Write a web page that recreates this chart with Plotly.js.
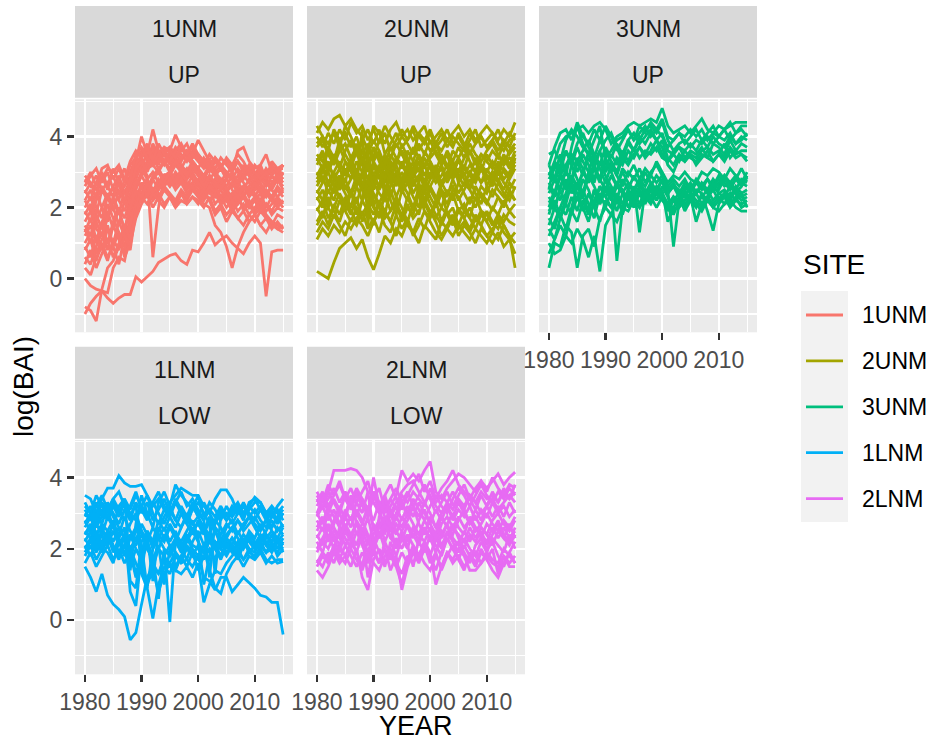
<!DOCTYPE html>
<html>
<head>
<meta charset="utf-8">
<script src="https://cdn.plot.ly/plotly-3.0.1.min.js"></script>
<style>html,body{margin:0;padding:0;background:#fff;}#chart{width:931px;height:742px;}</style>
</head>
<body>
<div id="chart"></div>
<script>
const YEARS = [1980,1981,1982,1983,1984,1985,1986,1987,1988,1989,1990,1991,1992,1993,1994,1995,1996,1997,1998,1999,2000,2001,2002,2003,2004,2005,2006,2007,2008,2009,2010,2011,2012,2013,2014,2015];

const SITES = ["1UNM","2UNM","3UNM","1LNM","2LNM"];
const ELEV = ["UP","UP","UP","LOW","LOW"];
const COLORS = ["#F8766D","#A3A500","#00BF7D","#00B0F6","#E76BF3"];
const X_TICKS = [1980,1990,2000,2010];
const Y_TICKS = [0,2,4];

const SITE_1UNM = [
[0.0,-0.2,-0.3,-0.35,-0.55,-0.7,-0.55,-0.45,-0.45,0.05,-0.1,0.05,0.2,0.45,0.55,0.65,0.7,0.5,0.4,0.8,0.75,1.0,1.3,0.95,1.1,1.2,1.0,0.85,0.7,1.0,1.2,1.0,-0.5,0.75,0.8,0.8],
[-0.8,-0.9,-1.2,-0.3,0.3,0.5,0.9,1.2,1.6,2.3,2.6,2.8,2.5,2.7,2.9,3.0,2.8,2.9,2.6,2.7,2.8,2.5,2.4,2.6,2.3,2.4,2.2,2.5,2.3,2.1,2.2,2.4,2.0,2.3,2.1,2.2],
[-1.0,-0.7,-0.5,-0.35,-0.4,0.3,0.6,0.5,1.3,2.0,2.4,2.6,2.3,2.5,2.8,2.6,2.9,2.7,2.8,3.0,2.7,2.9,2.6,2.4,2.7,2.5,2.3,2.6,2.4,2.5,2.3,2.6,2.4,2.2,2.5,2.3],
[0.3,0.1,0.6,0.9,0.5,1.1,0.8,1.4,1.9,2.5,2.9,3.1,3.2,3.0,3.3,3.1,3.4,3.2,3.0,3.3,3.1,2.9,2.8,3.0,2.7,2.8,2.6,2.9,2.7,2.5,2.6,2.9,2.7,2.5,2.8,2.6],
[0.6,0.4,0.9,1.3,0.8,1.5,1.1,0.7,1.8,2.6,3.0,3.3,3.5,3.2,3.6,3.4,3.7,3.5,3.3,3.6,3.4,3.2,3.0,3.3,3.1,2.9,3.2,3.0,2.8,3.1,2.9,3.2,2.8,2.6,3.0,2.8],
[1.2,1.5,1.0,1.6,1.9,1.4,2.0,1.7,2.2,2.8,3.2,3.5,4.2,3.6,3.5,3.7,3.4,3.6,3.8,3.4,3.5,3.3,3.1,3.4,3.2,3.3,3.0,3.6,3.7,3.3,3.1,3.2,3.5,3.0,3.1,3.2],
[2.8,2.6,2.9,2.5,2.7,2.9,2.4,2.6,2.9,3.3,4.0,3.5,3.2,3.4,3.6,3.7,3.5,3.3,3.6,3.5,3.9,3.6,3.3,3.1,3.4,3.2,3.0,3.3,3.1,2.9,3.2,3.0,2.8,3.1,2.9,3.2],
[2.9,2.7,2.5,2.8,3.1,3.0,3.2,2.8,3.0,3.4,3.6,3.3,3.8,3.5,3.7,3.6,4.05,3.7,3.4,3.5,3.3,3.1,3.4,3.0,3.2,3.0,2.8,3.1,2.9,3.2,3.0,2.8,3.1,2.9,3.1,3.1],
[2.0,2.3,1.8,2.5,2.2,2.6,2.9,2.4,2.7,3.0,3.2,2.9,0.6,2.0,2.8,2.9,3.2,3.0,2.8,3.1,2.9,2.7,2.5,2.8,2.6,2.4,2.7,2.5,2.3,2.6,2.4,2.2,2.5,2.3,2.6,2.4],
[1.5,1.2,1.8,1.4,2.1,1.7,1.3,0.9,1.5,2.2,2.7,2.5,2.9,3.1,2.8,3.0,2.7,2.9,3.1,2.8,2.6,2.4,2.7,2.5,2.2,2.4,2.1,2.3,2.0,2.2,1.9,2.1,1.8,1.6,1.5,1.4],
[2.5,2.2,2.7,3.0,2.6,2.3,2.8,3.1,2.5,2.9,3.1,2.8,3.0,2.7,2.9,2.6,2.8,3.0,2.7,2.5,2.7,2.4,2.6,2.3,2.5,2.2,2.4,2.1,2.3,2.0,2.2,1.9,2.1,1.8,2.0,1.9],
[1.0,1.3,0.7,1.1,1.5,0.9,0.4,1.2,0.8,1.9,2.4,2.7,2.3,2.6,2.9,2.7,3.0,2.8,2.6,2.9,2.7,2.5,2.8,2.6,2.3,2.5,2.2,2.4,1.9,2.1,1.8,2.0,1.7,1.5,1.4,1.3],
[1.8,2.1,1.6,2.0,2.4,2.0,1.5,2.2,1.9,2.4,2.2,2.5,2.2,2.4,2.1,2.3,2.0,2.2,2.1,2.3,2.1,2.4,2.2,1.8,2.0,1.6,1.9,1.7,1.5,1.8,1.6,1.9,1.7,1.5,1.8,1.7],
[2.7,3.0,2.6,3.1,3.2,2.8,3.1,2.7,3.2,3.4,3.0,3.3,3.6,3.4,3.2,3.5,3.3,3.1,3.4,3.2,3.0,2.8,3.1,2.9,2.7,3.0,2.8,2.6,2.9,2.7,2.5,2.8,2.6,2.9,2.7,3.0],
[1.3,1.7,1.1,1.5,1.0,1.6,2.0,1.3,2.1,3.0,3.4,3.1,3.7,3.3,3.5,3.2,3.6,3.4,3.5,3.3,3.1,2.9,3.2,3.0,2.8,2.6,2.9,2.7,2.5,2.8,2.6,2.4,2.7,2.5,2.3,2.5],
[2.2,2.5,2.0,1.7,2.3,2.6,2.2,1.9,2.4,2.8,2.6,2.3,2.5,2.2,2.0,2.3,2.1,2.4,2.2,2.5,2.3,2.1,2.0,1.5,1.3,0.9,0.3,0.9,1.3,1.6,1.8,1.5,1.3,1.6,1.4,1.5],
[0.8,1.1,0.5,1.0,0.6,0.9,1.3,0.6,1.0,1.7,2.1,2.4,2.0,2.3,2.6,2.4,2.2,2.5,2.3,2.6,2.4,2.2,2.5,2.1,2.3,2.0,2.2,1.9,2.1,1.8,2.0,2.2,1.9,2.1,2.3,2.1],
[2.4,2.7,2.3,2.9,2.5,3.1,2.7,2.4,2.8,3.2,3.5,3.8,3.4,3.6,3.3,3.5,3.2,3.4,3.6,3.3,3.1,3.4,3.2,2.9,3.1,2.8,3.0,2.7,3.2,2.9,2.7,3.0,2.8,3.3,3.1,2.9],
[1.6,1.9,1.4,1.2,1.8,2.2,1.8,2.5,2.1,2.7,2.9,2.6,2.8,3.0,2.7,2.9,2.6,2.8,2.5,2.7,2.5,2.3,2.6,2.4,2.1,2.3,2.0,2.2,2.4,2.1,2.3,2.1,2.4,2.2,2.0,2.2],
[2.2,1.9,2.4,2.0,1.6,2.3,2.7,2.1,2.6,3.1,3.3,3.0,3.4,3.1,3.3,3.0,3.3,3.1,2.9,3.2,3.0,2.7,2.9,2.6,2.8,2.5,2.7,2.4,2.6,2.3,2.5,2.7,2.4,2.6,2.8,2.5],
[0.9,0.6,1.2,0.8,1.4,1.0,1.6,1.2,0.9,2.0,2.6,2.3,2.8,2.5,2.7,3.0,2.7,3.1,2.9,3.2,2.9,2.6,2.9,2.7,2.5,2.8,2.5,2.3,2.6,2.4,2.7,2.5,2.3,2.6,2.9,2.7],
[2.6,2.9,3.1,2.7,3.0,2.5,2.2,2.8,3.3,3.6,3.4,3.7,3.3,3.8,3.5,3.3,3.6,3.8,3.5,3.7,3.4,3.2,3.5,3.3,3.1,3.4,3.2,3.5,3.3,3.0,2.8,3.1,2.9,3.2,3.0,3.2],
[0.4,0.8,0.3,0.7,1.1,0.6,1.0,1.5,1.1,1.8,2.3,2.1,2.4,2.2,2.5,2.3,2.0,2.4,2.1,2.3,2.2,2.0,2.3,1.9,2.1,1.8,2.0,1.7,1.9,1.6,1.8,1.5,1.7,1.4,1.6,1.4],
[1.9,1.6,2.2,2.6,2.3,1.9,2.5,2.2,2.8,3.5,3.7,3.4,3.2,3.5,3.3,3.6,3.4,3.7,3.5,3.8,3.5,3.3,3.1,3.4,3.2,3.3,3.1,3.3,3.0,3.2,3.0,2.8,3.0,2.7,2.9,2.8],
[1.4,1.0,1.6,1.2,1.7,2.3,1.9,1.4,2.0,2.5,2.3,2.7,2.4,2.8,2.6,2.8,2.5,2.7,2.4,2.6,2.3,2.5,2.2,2.4,2.1,2.2,1.9,2.1,2.3,2.0,2.2,1.9,2.1,1.9,2.2,2.0]
];

const SITE_2UNM = [
[0.2,0.1,0.0,0.45,0.85,1.0,1.15,0.85,1.1,0.6,0.25,0.7,1.2,1.0,1.4,1.2,1.6,1.3,1.0,1.5,1.3,1.1,1.6,1.4,1.2,1.5,1.3,1.1,1.4,1.2,1.0,1.3,1.1,1.5,1.2,0.3],
[4.1,4.4,4.2,4.5,4.6,4.3,4.5,4.2,4.0,3.6,4.3,4.1,3.8,4.2,4.4,4.0,4.2,3.9,4.1,4.3,3.8,4.0,4.2,3.9,4.1,4.3,4.0,4.2,3.9,4.1,4.3,4.1,3.9,4.2,4.0,4.4],
[3.8,4.0,3.6,4.2,3.9,4.1,3.7,4.0,3.5,3.8,3.4,3.9,4.3,4.0,3.7,4.0,3.8,3.5,4.1,3.9,3.6,3.8,4.1,3.7,4.0,3.8,3.6,3.9,4.2,3.7,3.9,4.1,3.8,3.6,3.9,4.0],
[3.2,3.5,3.0,3.4,3.7,3.3,3.1,3.6,3.2,2.8,3.3,3.0,3.5,3.1,3.4,3.2,2.9,3.3,3.0,3.4,3.1,2.8,3.2,3.5,3.0,3.3,3.1,2.9,3.4,3.2,3.0,3.3,3.1,3.5,3.2,3.6],
[2.8,3.1,2.7,3.0,3.3,2.9,3.2,2.6,3.0,3.4,2.9,3.2,2.7,3.1,2.8,3.3,3.0,2.6,2.9,3.2,2.8,3.1,2.7,3.0,3.3,2.9,2.6,3.0,2.8,3.2,2.9,2.7,3.1,2.8,3.0,3.3],
[2.5,2.2,2.7,2.4,2.9,2.6,2.3,2.8,2.5,2.1,2.7,3.1,2.6,2.3,2.8,2.5,2.9,2.4,2.7,2.2,2.6,2.9,2.5,2.3,2.8,2.4,2.7,2.5,2.2,2.6,2.4,2.8,2.5,2.3,2.7,2.5],
[1.9,2.2,1.7,2.0,2.4,2.1,1.8,2.3,1.6,2.0,1.5,2.2,1.8,2.5,2.0,1.7,2.3,1.9,2.6,2.1,1.8,2.2,1.6,2.0,2.4,1.9,2.1,1.7,2.3,1.9,1.6,2.0,1.8,2.2,1.9,2.1],
[1.3,1.6,1.4,1.8,1.5,1.2,1.7,1.5,1.9,1.4,1.7,1.3,1.9,1.6,1.2,1.8,1.5,1.3,1.7,1.4,1.9,1.6,1.2,1.5,1.8,1.4,1.6,1.3,1.7,1.5,1.2,1.4,1.6,1.3,1.1,1.3],
[3.5,3.3,3.7,3.4,3.1,3.6,3.9,3.5,3.2,3.7,3.3,3.6,2.2,3.4,3.8,3.5,3.2,3.7,3.4,3.1,3.5,3.8,3.4,3.1,3.6,3.4,3.7,3.3,3.0,3.5,3.3,3.6,3.4,3.8,3.5,3.7],
[3.0,2.7,3.2,2.9,2.6,3.1,2.8,3.3,3.0,2.5,3.2,2.8,3.4,2.9,3.2,2.7,3.0,2.8,3.3,2.9,3.2,2.9,3.1,2.7,3.0,2.8,3.2,2.9,2.7,3.1,2.8,3.0,2.7,3.1,2.9,3.2],
[2.2,2.5,2.0,2.6,2.3,1.9,2.4,2.1,2.7,2.3,2.0,2.6,3.4,2.2,1.8,2.5,2.2,2.8,2.4,2.0,2.6,2.3,2.0,2.5,2.2,2.7,2.4,2.1,2.6,2.3,2.1,2.5,2.3,2.0,2.4,2.2],
[4.0,3.7,4.1,3.8,4.2,3.9,4.4,4.1,4.3,3.9,4.2,3.8,4.1,3.6,3.9,4.2,3.9,4.3,4.0,3.8,4.1,3.7,3.9,4.2,3.8,4.0,3.7,4.1,3.8,4.0,3.7,3.9,4.2,3.8,4.1,3.9],
[2.9,3.2,2.6,3.0,2.7,3.3,3.0,2.7,4.2,1.5,3.0,2.5,2.8,3.2,2.6,3.0,2.7,3.1,3.5,2.4,2.8,3.2,2.6,2.9,3.3,2.7,3.0,2.5,2.9,3.2,2.6,3.0,2.8,2.5,2.9,3.4],
[1.6,1.9,1.5,2.1,1.8,2.3,1.9,1.6,2.2,3.6,2.0,1.7,2.4,1.9,2.2,1.6,2.0,1.8,2.4,1.9,1.7,2.1,2.5,1.8,2.0,1.5,1.9,1.7,1.4,1.8,1.6,1.3,1.7,1.5,1.2,1.0],
[3.4,3.1,3.6,3.3,3.9,3.5,3.2,3.8,3.4,3.0,3.7,3.3,2.9,3.5,3.2,3.8,3.4,3.0,2.7,3.6,3.3,3.0,3.5,3.2,2.9,3.4,3.1,3.6,3.3,3.0,3.5,3.2,2.9,3.4,3.1,3.5],
[2.6,2.9,2.4,2.8,2.5,2.8,2.4,2.9,2.6,2.3,2.7,2.4,2.2,2.6,2.9,2.4,2.7,2.3,2.0,2.8,2.5,2.2,2.7,2.4,2.6,2.2,2.5,2.8,2.4,2.1,2.6,2.3,2.7,2.4,2.2,2.6],
[2.0,1.7,2.3,1.9,1.6,2.1,2.5,1.8,2.2,1.9,2.4,2.0,1.7,1.9,2.3,2.0,1.6,2.1,1.8,2.5,2.1,1.8,1.5,1.9,1.6,2.0,1.7,1.4,1.8,1.5,1.9,1.6,1.4,1.8,1.6,1.5],
[3.7,3.9,3.5,3.2,3.6,3.8,3.4,3.7,3.3,3.5,3.9,3.6,3.2,3.7,3.4,3.1,3.6,3.3,3.8,3.5,3.9,3.5,3.2,3.6,3.3,3.7,3.4,3.8,3.5,3.3,3.6,3.8,3.5,3.2,3.6,3.8],
[2.4,2.7,3.0,2.6,2.9,2.5,2.8,3.1,2.7,2.4,2.9,2.6,2.9,2.7,3.0,2.8,3.1,2.7,2.9,2.6,3.0,2.7,2.9,3.2,2.8,3.1,2.8,2.6,3.0,2.7,2.9,2.6,3.0,2.7,2.5,2.8],
[1.1,1.4,1.2,1.5,1.3,1.6,1.4,1.7,1.5,1.2,1.6,1.9,1.5,1.3,1.8,1.4,1.7,1.2,1.5,1.9,1.6,1.3,1.1,1.4,1.7,1.2,1.5,1.3,1.0,1.4,1.2,1.0,1.3,0.9,1.1,0.7],
[4.3,4.0,3.8,4.1,3.7,4.3,4.0,3.6,3.9,4.2,3.8,4.2,3.5,3.8,4.1,3.7,3.9,4.2,3.6,3.9,4.2,3.8,3.6,3.9,3.7,4.1,3.8,3.5,3.8,4.0,3.7,3.9,3.6,3.9,3.7,4.1],
[2.7,3.0,3.3,2.8,3.1,2.7,3.4,3.0,2.8,3.3,2.5,3.1,2.8,3.3,3.0,2.6,3.2,2.9,3.1,2.7,3.3,2.9,3.2,2.8,3.1,3.4,2.9,3.2,3.0,2.7,3.1,2.8,3.3,3.0,2.8,3.1],
[2.3,2.0,2.5,2.2,2.7,2.4,2.0,2.6,2.2,2.8,2.4,2.1,2.5,2.8,2.3,2.7,2.4,2.0,2.5,2.7,2.3,2.0,2.4,2.1,2.5,2.3,1.9,2.3,2.0,2.4,2.2,1.9,2.3,2.1,2.5,2.2],
[3.3,3.6,3.1,3.5,3.2,3.0,3.3,2.9,3.4,3.1,3.7,3.4,3.1,2.8,3.3,3.6,3.3,3.0,3.5,3.2,3.4,3.6,3.3,3.5,3.2,3.0,3.4,3.6,3.2,3.5,3.3,3.1,3.5,3.2,3.4,3.3],
[1.5,1.8,2.0,1.7,2.2,1.9,1.6,2.0,1.8,2.1,1.8,2.2,1.9,1.6,2.1,1.8,2.1,1.7,1.9,2.2,1.9,1.7,2.0,1.8,1.5,1.9,1.7,2.0,1.6,1.9,1.8,1.5,1.8,1.6,1.9,1.7]
];

const SITE_3UNM = [
[2.5,3.3,3.8,4.0,4.1,4.2,4.3,4.1,4.3,4.4,4.2,3.8,4.0,4.1,4.3,4.4,4.3,4.4,4.5,4.4,4.8,4.3,4.1,4.2,4.3,4.1,4.3,4.5,4.2,4.1,4.3,4.2,4.3,4.4,4.4,4.4],
[3.5,3.6,3.3,3.9,4.2,4.0,3.7,3.5,3.9,4.3,3.4,3.6,3.9,4.0,4.2,3.9,4.1,4.3,4.0,4.2,4.0,3.7,3.9,4.1,3.8,4.0,4.2,3.9,4.1,4.3,4.0,4.2,4.4,4.1,4.3,4.3],
[1.8,2.4,2.9,3.2,3.5,3.3,3.6,3.9,3.5,3.2,3.7,3.4,3.8,3.5,3.9,3.6,4.0,3.8,4.1,3.9,3.5,3.3,3.6,3.7,3.4,3.6,3.5,3.7,3.4,3.8,3.7,3.5,3.9,3.6,3.8,3.7],
[2.2,1.9,2.6,3.0,2.8,3.4,3.1,2.7,3.3,3.6,3.0,3.3,2.9,3.4,3.2,3.5,3.7,3.4,3.6,3.9,3.7,3.2,3.0,3.4,3.3,3.5,3.2,3.4,3.6,3.3,3.5,3.8,3.4,3.6,3.5,3.4],
[3.0,2.7,3.2,3.6,3.3,3.8,4.1,3.7,3.4,3.9,3.6,3.3,3.0,3.5,3.8,3.6,3.9,4.2,4.3,4.1,4.4,3.9,3.6,3.8,3.9,3.7,3.9,3.8,4.0,3.8,4.0,3.9,4.1,3.8,4.0,3.9],
[1.2,1.6,2.0,2.4,2.9,2.6,3.0,3.4,3.1,2.7,3.3,3.0,3.4,3.2,3.6,3.4,3.7,3.5,3.8,3.6,3.9,3.4,3.2,3.5,3.3,3.5,3.4,3.6,3.7,3.5,3.6,3.4,3.7,3.5,3.6,3.6],
[2.8,3.1,3.4,2.9,3.7,4.3,3.8,3.5,3.1,3.6,3.9,4.1,3.7,3.3,3.9,4.1,3.8,4.0,4.2,3.9,4.1,3.6,3.5,3.7,3.6,3.8,3.6,3.9,3.7,4.0,3.8,3.7,4.0,3.8,3.9,4.1],
[0.3,1.0,0.9,1.5,1.3,0.3,1.2,1.4,0.9,1.7,2.0,1.8,2.2,2.0,2.3,2.1,2.4,2.2,2.3,2.5,2.4,2.1,2.3,2.2,2.4,2.3,2.5,2.4,2.2,2.6,2.4,2.5,2.3,2.6,2.4,2.5],
[1.0,0.7,0.8,1.2,1.0,1.4,1.1,0.6,1.2,0.2,1.5,1.8,1.6,2.0,1.9,2.2,2.0,2.3,2.1,2.4,2.2,2.0,2.3,2.1,2.4,2.2,2.1,2.3,2.5,2.2,2.4,2.3,2.6,2.4,2.2,2.3],
[1.5,2.0,1.7,2.3,2.6,2.2,2.8,2.5,2.0,2.6,2.3,2.6,0.5,2.0,2.5,2.3,2.6,2.4,2.7,2.5,2.8,2.4,2.6,2.5,2.3,2.6,2.4,2.7,2.5,2.8,2.6,2.9,2.7,2.5,2.8,2.7],
[2.0,2.5,2.2,2.8,2.4,2.7,2.3,2.9,2.6,2.2,2.8,2.4,2.7,2.5,2.2,2.6,1.3,2.5,2.3,2.6,2.4,1.9,2.2,2.4,2.1,2.3,1.6,2.1,2.3,2.0,2.2,2.4,2.1,2.3,2.0,2.1],
[2.6,2.3,2.9,2.5,3.2,2.8,2.4,3.0,2.7,3.3,2.9,2.6,2.2,2.8,2.5,2.9,2.6,3.0,2.7,2.4,2.8,2.5,0.9,2.2,2.6,2.4,2.7,2.5,2.8,2.6,2.9,2.7,2.5,2.8,2.6,2.9],
[1.7,1.4,2.0,1.8,2.3,1.9,2.5,2.1,1.7,2.4,2.0,2.5,2.2,1.9,2.4,2.1,2.5,2.3,2.6,2.2,2.5,1.6,2.0,2.3,1.9,2.2,2.0,2.4,1.9,1.35,2.1,2.3,2.0,2.2,2.4,2.0],
[2.3,2.0,2.5,2.1,2.7,2.4,2.0,1.6,2.2,2.6,2.3,2.0,2.4,1.8,2.3,2.0,2.4,2.1,2.5,2.2,2.6,2.3,1.9,2.1,2.5,2.2,2.4,2.1,2.3,2.5,2.2,2.4,2.2,2.5,2.3,2.4],
[3.2,2.8,3.5,3.0,2.7,3.3,2.9,3.6,3.2,2.8,3.4,3.0,2.6,3.1,2.9,3.2,2.8,3.1,2.9,3.3,3.0,2.7,2.9,2.8,3.0,2.8,2.7,3.0,2.9,3.1,3.0,2.8,3.1,2.9,2.7,3.0],
[0.7,1.1,1.5,1.2,1.9,1.6,2.2,1.8,2.5,2.1,2.6,2.3,1.9,2.4,2.7,2.5,2.8,2.4,2.6,2.9,2.7,2.4,2.6,2.3,2.5,2.7,2.4,2.6,2.8,2.5,2.7,2.9,2.6,2.8,3.1,2.8],
[1.9,2.2,1.8,1.4,2.0,2.6,2.3,1.9,2.5,2.1,2.5,2.2,2.6,2.4,2.0,2.4,2.1,2.5,2.3,2.0,2.3,2.1,1.8,2.2,2.0,2.3,2.1,1.9,2.2,2.0,1.9,2.1,2.2,2.0,1.9,1.9],
[2.9,3.3,3.0,3.6,3.2,3.7,3.3,3.0,3.5,3.1,2.7,3.2,2.9,2.6,3.0,2.8,3.1,2.7,3.0,3.2,2.9,2.6,2.8,2.6,2.8,2.5,2.7,2.6,2.8,2.6,2.8,2.6,2.7,2.9,2.7,2.6],
[3.2,3.7,4.1,4.2,3.9,4.4,4.0,3.8,4.2,3.9,4.3,4.0,3.6,3.9,4.2,3.9,4.3,4.1,4.4,4.2,4.5,4.0,3.9,4.1,4.0,4.2,4.0,4.2,3.9,4.1,4.0,4.2,3.9,4.1,4.2,4.0],
[2.4,2.8,2.5,3.1,3.4,3.0,3.5,3.2,2.8,3.3,3.1,3.5,3.2,3.6,3.3,3.7,3.4,3.6,3.5,3.7,3.4,3.3,3.5,3.3,3.6,3.4,3.3,3.5,3.4,3.3,3.5,3.3,3.6,3.4,3.5,3.3],
[1.4,1.1,1.7,2.1,1.8,2.3,1.9,2.4,2.0,1.6,2.2,2.0,2.4,2.1,2.5,2.2,2.0,2.4,2.2,2.5,2.3,2.0,2.2,2.0,2.2,2.4,2.2,2.0,2.3,2.1,2.3,2.1,2.4,2.2,2.1,2.2],
[2.7,2.4,3.0,2.6,2.9,2.5,3.0,2.7,3.1,2.8,2.5,2.9,2.6,3.0,2.7,2.4,2.8,2.6,2.9,2.7,2.9,2.5,2.7,2.4,2.7,2.5,2.8,2.6,2.4,2.7,2.5,2.8,2.6,2.4,2.6,2.8]
];

const SITE_1LNM = [
[1.5,1.2,0.8,1.3,0.7,0.45,0.3,0.1,-0.55,-0.35,0.45,1.2,1.5,1.3,1.7,1.6,1.9,1.7,2.0,1.8,2.1,1.9,2.2,2.0,2.3,2.1,1.9,2.2,2.0,2.3,2.1,2.4,2.2,2.0,2.3,2.1],
[2.4,2.6,2.2,2.5,2.3,2.7,2.1,2.4,2.0,2.3,2.5,2.1,1.7,2.0,1.8,2.1,1.9,1.6,1.7,1.5,1.8,1.2,1.1,0.85,1.2,1.2,0.8,1.0,1.2,1.05,0.9,0.7,0.65,0.5,0.5,-0.4],
[3.5,3.4,3.0,3.4,3.7,3.7,4.05,3.85,3.75,3.75,3.8,3.5,3.2,3.4,3.1,3.3,3.5,3.7,3.6,3.5,3.5,3.2,3.0,3.4,3.65,3.65,3.4,3.0,3.2,3.1,3.3,3.3,3.0,2.9,3.2,3.4],
[3.0,2.8,3.3,2.9,3.1,2.6,3.2,3.4,1.4,2.7,3.5,3.0,2.6,3.3,3.6,3.2,3.8,3.5,3.3,3.1,3.5,2.9,3.3,3.1,2.8,3.2,2.9,3.1,2.8,3.3,3.4,3.1,2.8,3.0,2.7,3.0],
[2.6,2.9,2.4,2.7,2.5,2.8,2.3,2.6,0.8,0.4,1.9,2.4,2.1,2.6,2.3,2.7,2.4,2.2,2.5,2.8,2.3,2.6,2.2,2.5,2.1,2.4,2.6,2.3,2.1,2.5,2.3,2.7,2.4,2.2,2.6,2.4],
[2.0,2.3,1.9,2.2,2.5,2.1,1.8,2.4,2.0,1.6,1.3,0.9,0.05,1.0,1.5,1.3,1.8,1.6,2.1,1.9,1.4,1.8,2.0,1.7,2.2,1.9,2.1,1.8,2.3,2.0,1.7,2.1,1.9,2.2,1.8,2.0],
[2.8,2.5,3.0,2.7,3.2,2.9,2.6,2.3,2.7,3.0,2.5,2.2,2.6,2.3,2.0,-0.05,2.2,2.6,2.9,2.5,2.7,2.4,2.8,2.5,2.2,2.6,2.8,2.4,2.7,2.9,2.6,2.3,2.5,2.8,2.5,2.7],
[1.8,2.1,1.7,2.0,1.9,1.6,2.2,1.9,1.5,2.0,1.7,2.1,1.6,1.3,1.8,1.5,1.4,1.3,1.5,1.2,1.6,0.5,1.0,1.4,1.3,1.6,1.8,2.0,1.7,1.9,1.8,2.0,1.7,1.6,1.7,1.7],
[3.2,3.0,2.7,3.1,2.8,3.2,2.9,3.3,3.0,2.8,3.2,3.5,3.0,2.7,3.1,2.9,3.3,3.0,2.7,3.1,3.3,3.0,2.7,1.3,2.9,3.0,2.7,3.0,3.2,2.9,3.1,2.8,2.6,2.9,3.1,2.8],
[2.2,2.5,2.0,2.4,2.1,2.5,2.2,1.8,2.3,2.6,2.1,0.9,2.0,2.4,2.2,2.6,2.3,2.0,2.4,2.1,2.0,1.7,2.3,2.1,1.8,2.2,2.0,1.7,2.1,2.3,2.0,2.2,2.4,2.1,1.9,2.2],
[1.6,1.9,1.5,1.8,2.1,1.7,2.0,1.6,1.9,1.2,1.5,1.0,1.4,0.8,1.3,1.6,1.4,1.8,1.5,1.9,1.7,2.0,1.4,0.9,0.75,1.3,1.6,1.8,1.5,1.8,1.7,1.9,1.6,1.8,1.6,1.65],
[2.5,2.3,2.7,2.4,2.9,2.6,2.4,2.9,2.5,2.2,2.7,2.4,1.1,2.5,2.9,3.2,2.8,2.6,3.0,2.7,2.9,2.6,2.4,2.8,2.6,2.3,2.6,2.8,2.5,2.7,2.9,2.6,2.8,2.5,2.3,2.6],
[2.9,3.2,2.8,3.3,3.0,3.4,3.1,2.8,3.2,3.6,3.1,2.8,3.3,3.0,2.7,3.1,2.8,3.2,2.9,3.3,3.0,2.8,1.2,2.8,3.1,2.8,3.0,3.2,2.9,3.2,3.0,3.2,2.9,2.6,2.9,3.1],
[2.1,1.8,2.2,1.9,2.3,2.0,1.7,2.1,2.4,2.0,1.7,2.2,1.8,0.6,2.0,1.8,2.2,1.9,2.3,2.0,1.8,2.1,1.9,2.2,2.0,1.8,2.1,1.9,1.7,2.0,1.9,2.2,1.9,2.0,2.2,1.9],
[3.3,3.0,3.5,3.2,2.9,3.3,3.0,3.4,3.1,3.5,3.2,2.9,3.3,3.6,3.2,3.0,3.4,3.1,2.8,3.2,2.9,3.3,3.0,2.7,3.0,2.8,3.1,3.3,3.0,3.2,3.45,3.3,3.0,3.2,3.0,3.2],
[2.4,2.7,2.3,2.0,2.5,2.2,2.6,2.3,2.0,1.3,1.8,2.2,1.5,2.0,2.4,2.1,1.5,1.8,2.2,2.5,2.2,1.9,2.4,2.1,2.3,2.0,2.3,2.1,2.4,2.2,2.0,2.3,2.1,2.4,2.0,2.3],
[2.7,3.0,2.6,2.9,3.3,3.0,2.7,3.1,2.8,3.3,1.3,2.5,2.2,2.8,2.5,2.9,2.6,3.0,2.7,2.4,2.8,2.5,2.9,2.6,2.4,2.7,2.5,2.8,2.6,2.9,2.7,2.5,2.8,2.6,2.9,2.6],
[1.9,2.2,2.5,2.1,2.4,1.9,2.3,2.0,2.4,2.1,2.4,2.0,1.7,2.1,1.0,2.0,2.3,2.0,1.7,2.2,2.5,2.1,2.4,2.0,1.7,2.1,2.3,2.0,2.2,1.9,2.1,2.4,2.1,1.9,2.2,2.0],
[3.1,2.8,3.2,3.5,3.1,3.4,3.6,3.2,2.9,3.3,3.0,3.3,2.8,3.1,3.4,3.0,3.3,3.6,3.2,3.4,3.1,2.8,3.1,2.9,3.2,2.9,3.2,3.0,3.3,3.0,2.8,3.1,2.9,3.1,2.8,3.0],
[2.3,2.0,2.4,2.6,2.2,2.5,2.1,2.4,1.1,0.9,2.2,2.5,2.0,2.3,2.6,2.2,2.5,2.1,2.3,2.6,2.3,1.0,1.8,2.2,2.0,2.3,2.1,2.5,2.2,2.4,2.2,2.0,2.3,2.5,2.2,2.4]
];

const SITE_2LNM = [
[3.0,3.4,3.6,4.2,4.2,4.2,4.25,4.2,4.0,3.6,3.5,3.2,3.5,3.0,3.3,3.6,3.8,3.9,3.6,3.3,3.5,3.2,3.0,3.3,3.1,3.4,3.2,3.5,3.3,3.0,3.2,3.4,3.1,3.3,3.5,3.3],
[3.4,3.1,3.6,3.3,3.0,3.5,3.2,2.9,3.4,3.1,3.6,3.0,2.7,3.2,3.5,4.2,3.9,4.1,3.9,4.2,4.45,3.6,3.4,3.7,3.9,4.1,4.0,3.8,3.6,3.9,3.7,3.9,4.1,3.8,4.0,4.15],
[1.4,1.2,1.5,1.9,1.6,1.8,1.5,2.0,1.2,0.85,1.7,2.0,1.6,1.9,1.5,1.0,1.7,2.1,1.8,2.2,1.9,1.0,1.5,1.9,1.7,2.0,1.8,1.4,1.4,1.6,1.9,1.7,1.6,2.0,1.8,1.6],
[1.7,1.5,1.9,1.6,2.1,1.8,2.2,1.9,1.5,2.3,1.9,1.6,2.0,1.4,1.8,0.85,1.5,1.9,1.6,2.0,1.8,1.4,1.9,2.3,2.0,1.7,2.1,1.8,1.5,1.9,1.7,2.0,1.3,1.8,1.5,1.5],
[2.5,2.8,2.3,2.7,3.0,2.6,2.9,2.4,2.7,3.2,2.6,2.3,2.8,2.5,2.9,2.6,3.0,2.7,2.4,2.8,2.5,2.2,2.7,2.9,2.6,2.9,2.6,2.8,2.5,2.7,3.0,2.7,2.5,2.8,2.6,2.9],
[3.2,3.5,3.0,3.4,3.1,3.5,3.2,3.6,3.3,2.9,4.0,3.2,2.4,3.1,2.8,3.3,3.0,3.4,3.1,2.8,3.2,3.5,3.2,3.0,3.4,3.7,3.5,3.2,3.5,3.8,3.5,3.3,3.6,3.4,3.7,3.5],
[2.0,2.3,2.6,2.2,2.5,2.1,2.4,2.7,2.3,1.9,2.4,2.8,2.2,2.6,2.0,2.4,2.1,1.5,2.3,2.6,2.2,2.5,2.1,2.4,2.7,2.3,2.0,2.4,2.2,2.5,2.1,2.4,2.7,2.3,2.1,2.4],
[2.8,2.5,3.0,2.6,2.3,2.9,2.6,3.1,2.8,2.4,1.8,2.9,3.3,2.7,2.4,2.9,2.6,2.3,2.8,3.1,2.7,2.4,2.9,2.6,2.4,2.8,3.1,2.7,2.9,2.6,2.4,2.8,3.0,2.7,2.5,2.8],
[3.6,3.3,3.8,3.5,3.9,3.4,3.7,3.3,3.6,3.9,3.3,3.0,3.5,3.8,3.4,3.1,3.5,3.8,4.1,3.6,3.9,3.4,3.7,3.9,4.2,3.8,3.6,3.4,3.7,3.9,3.6,4.0,3.7,3.5,3.8,3.7],
[2.2,1.9,2.4,2.0,2.6,2.3,2.0,2.5,2.1,1.7,2.3,1.9,1.5,2.2,1.8,2.3,2.0,2.6,2.2,1.9,2.4,2.1,1.8,2.3,2.0,2.2,1.9,1.6,2.1,2.3,2.0,2.2,1.8,1.5,1.9,2.2],
[3.0,2.7,3.2,2.9,2.6,3.1,2.8,3.3,3.0,3.6,2.5,2.8,3.4,2.9,3.2,2.8,3.2,2.9,3.3,3.0,2.7,3.1,2.8,3.2,2.9,3.3,3.0,2.7,3.1,2.8,3.2,2.9,3.2,2.9,3.3,3.0],
[2.6,2.9,2.5,2.8,3.2,2.8,3.5,2.7,2.4,2.9,2.2,2.6,2.9,2.3,2.7,2.5,2.8,3.2,2.7,2.4,2.9,2.6,2.3,2.7,3.0,2.6,2.4,2.9,2.6,2.3,2.7,2.5,2.8,2.4,2.2,2.6],
[1.9,2.2,2.0,2.4,2.1,2.6,2.3,1.9,2.4,1.2,2.1,2.5,2.0,1.7,2.3,2.0,2.4,2.1,1.8,2.2,1.8,2.3,2.0,2.5,2.2,1.9,2.3,2.0,1.8,2.2,1.9,2.3,2.1,1.9,2.4,2.0],
[3.3,3.6,3.2,3.5,3.8,3.4,3.1,3.5,3.2,3.0,3.4,3.7,3.1,3.4,3.7,3.3,3.6,3.2,3.5,3.8,3.4,3.0,3.3,3.6,3.2,3.5,3.8,3.4,3.1,3.5,3.2,3.6,3.3,3.7,3.4,3.8],
[2.4,2.1,2.7,2.3,1.9,2.5,2.2,2.8,2.5,2.1,2.7,2.3,2.6,3.0,2.5,2.2,2.7,2.4,2.1,2.6,2.3,1.9,2.4,2.7,2.3,2.1,2.5,2.2,2.6,2.4,2.2,2.6,2.3,2.6,2.3,2.5],
[1.5,1.8,1.6,2.0,1.7,2.1,1.8,1.5,1.9,1.6,2.0,1.6,2.2,1.8,1.5,1.9,1.6,2.0,1.7,2.1,1.6,1.9,1.4,1.8,2.1,1.7,1.4,1.9,1.6,2.0,1.7,1.4,1.2,1.6,1.9,1.6],
[2.9,3.2,2.8,3.1,2.7,3.0,3.4,3.0,2.7,3.1,2.8,3.3,2.9,2.6,3.0,3.3,2.9,3.2,2.9,3.3,3.0,2.6,3.0,3.2,2.8,3.1,2.9,3.2,2.8,3.1,2.9,3.3,3.0,3.2,2.9,3.1],
[2.3,2.6,2.2,2.5,2.3,2.7,2.4,2.1,2.6,2.3,2.0,2.4,2.7,2.3,2.1,2.5,2.2,2.6,2.4,2.2,2.6,2.3,2.5,2.2,2.6,2.4,2.2,2.6,2.3,2.6,2.4,2.1,2.5,2.3,2.7,2.3],
[3.5,3.2,3.4,3.7,3.3,3.6,3.3,3.7,3.4,3.1,3.6,3.3,3.0,3.4,3.1,3.5,3.3,3.6,3.4,3.2,3.7,3.3,3.5,3.3,3.6,3.3,3.1,3.5,3.3,3.6,3.4,3.5,3.3,3.6,3.4,3.6],
[1.6,1.9,1.7,2.1,1.8,1.6,2.0,1.7,1.4,1.9,1.6,1.4,1.8,2.0,1.6,1.3,1.8,1.6,1.9,1.6,1.4,1.8,1.5,1.9,1.6,1.8,1.5,1.7,1.9,1.6,1.8,1.6,1.5,1.8,1.6,1.8]
];

const DATA = [SITE_1UNM, SITE_2UNM, SITE_3UNM, SITE_1LNM, SITE_2LNM];

// ---- layout geometry (pixels) ----
const W = 931, H = 742;
const COLS = [[75,293],[307,525],[539,757]];
const ROWS = [{strip:[6,97.7], plot:[99.3,332.3]}, {strip:[346.7,438.7], plot:[440,674.3]}];
const PANEL_POS = [[0,0],[1,0],[2,0],[0,1],[1,1]]; // [col,row]
const FONT = "Liberation Sans, Arial, Helvetica, sans-serif";
const LINE_W = 2.8;
const px = v => v / W;
const py = v => 1 - v / H;

const traces = [];
const layout = {
  width: W, height: H, autosize: false,
  margin: {l:0, r:0, t:0, b:0, pad:0},
  paper_bgcolor: "#FFFFFF",
  plot_bgcolor: "#EBEBEB",
  showlegend: false,
  font: {family: FONT, size: 23, color: "#1A1A1A"},
  shapes: [], annotations: []
};

DATA.forEach((site, k) => {
  const [c, r] = PANEL_POS[k];
  const sfx = k === 0 ? "" : String(k + 1);
  site.forEach(vals => {
    traces.push({
      type: "scatter", mode: "lines",
      x: YEARS, y: vals,
      xaxis: "x" + sfx, yaxis: "y" + sfx,
      line: {color: COLORS[k], width: LINE_W},
      hoverinfo: "skip", showlegend: false
    });
  });
  const showX = (r === 1) || (c === 2);
  const showY = (c === 0);
  layout["xaxis" + sfx] = {
    domain: [px(COLS[c][0]), px(COLS[c][1])],
    anchor: "y" + sfx,
    range: [1978.25, 2016.75],
    tickmode: "array", tickvals: X_TICKS, ticktext: X_TICKS.map(String),
    showticklabels: showX,
    ticks: showX ? "outside" : "", ticklen: 7, tickwidth: 2.2, tickcolor: "#333333",
    tickfont: {family: FONT, size: 23, color: "#4D4D4D"},
    showgrid: true, gridcolor: "#FFFFFF", gridwidth: 2.3,
    minor: {tickvals: [1985,1995,2005,2015], showgrid: true, gridcolor: "#FFFFFF", gridwidth: 1.1, ticks: ""},
    zeroline: false, showline: false, fixedrange: true, automargin: false
  };
  layout["yaxis" + sfx] = {
    domain: [py(ROWS[r].plot[1]), py(ROWS[r].plot[0])],
    anchor: "x" + sfx,
    range: [-1.515, 5.05],
    tickmode: "array", tickvals: Y_TICKS, ticktext: Y_TICKS.map(String),
    showticklabels: showY,
    ticks: showY ? "outside" : "", ticklen: 7, tickwidth: 2.2, tickcolor: "#333333",
    tickfont: {family: FONT, size: 23, color: "#4D4D4D"},
    showgrid: true, gridcolor: "#FFFFFF", gridwidth: 2.3,
    minor: {tickvals: [-1,1,3,5], showgrid: true, gridcolor: "#FFFFFF", gridwidth: 1.1, ticks: ""},
    zeroline: false, showline: false, fixedrange: true, automargin: false
  };
  // strip
  const st = ROWS[r].strip;
  layout.shapes.push({type: "rect", xref: "paper", yref: "paper",
    x0: px(COLS[c][0]), x1: px(COLS[c][1]), y0: py(st[1]), y1: py(st[0]),
    fillcolor: "#D9D9D9", line: {width: 0}, layer: "below"});
  const cx = px((COLS[c][0] + COLS[c][1]) / 2);
  layout.annotations.push({xref: "paper", yref: "paper", x: cx, y: py(st[0] + 23), yanchor: "middle", xanchor: "center",
    text: SITES[k], showarrow: false, font: {family: FONT, size: 23, color: "#1A1A1A"}});
  layout.annotations.push({xref: "paper", yref: "paper", x: cx, y: py(st[0] + 69), yanchor: "middle", xanchor: "center",
    text: ELEV[k], showarrow: false, font: {family: FONT, size: 23, color: "#1A1A1A"}});
});

// axis titles
layout.annotations.push({xref: "paper", yref: "paper", x: px(416), y: py(741.5), xanchor: "center", yanchor: "bottom",
  text: "YEAR", showarrow: false, borderpad: 0, font: {family: FONT, size: 27, color: "#000000"}});
layout.annotations.push({xref: "paper", yref: "paper", x: px(23), y: py(387), xanchor: "center", yanchor: "middle",
  text: "log(BAI)", textangle: -90, showarrow: false, font: {family: FONT, size: 28, color: "#000000"}});

// legend (ggplot style)
layout.annotations.push({xref: "paper", yref: "paper", x: px(801), y: py(264.5), xanchor: "left", yanchor: "middle",
  text: "SITE", showarrow: false, font: {family: FONT, size: 28, color: "#000000"}});
layout.shapes.push({type: "rect", xref: "paper", yref: "paper", x0: px(801), x1: px(848), y0: py(522), y1: py(291),
  fillcolor: "#F2F2F2", line: {width: 0}});
SITES.forEach((s, i) => {
  const yy = 315 + i * 45.9;
  layout.shapes.push({type: "line", xref: "paper", yref: "paper", x0: px(806), x1: px(843), y0: py(yy), y1: py(yy),
    line: {color: COLORS[i], width: LINE_W}});
  layout.annotations.push({xref: "paper", yref: "paper", x: px(860), y: py(yy), xanchor: "left", yanchor: "middle",
    text: s, showarrow: false, font: {family: FONT, size: 23, color: "#000000"}});
});

Plotly.newPlot("chart", traces, layout, {staticPlot: true, displayModeBar: false});
</script>
</body>
</html>
